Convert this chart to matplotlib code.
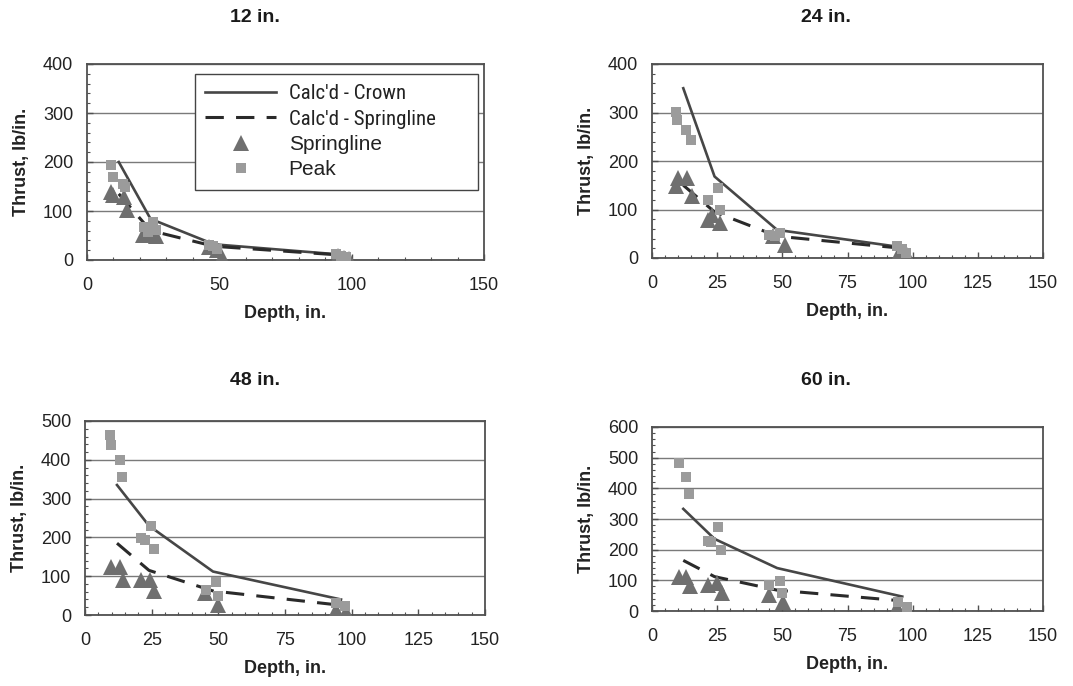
import matplotlib
matplotlib.use('Agg')
import matplotlib.pyplot as plt
from matplotlib.ticker import MultipleLocator
from matplotlib.lines import Line2D
from matplotlib import font_manager

plt.rcParams['font.family'] = ['Liberation Sans', 'DejaVu Sans']

# ---------------- data ----------------
titles = ['12 in.', '24 in.', '48 in.', '60 in.']
calc_depth = [12, 24, 48, 96]

crown_12 = [200, 84, 32, 11]
crown_24 = [350, 168, 58, 22]
crown_48 = [335, 230, 112, 40]
crown_60 = [333, 235, 140, 47]

calc_spring_12 = [135, 60, 28, 10]
calc_spring_24 = [150, 95, 45, 20]
calc_spring_48 = [185, 115, 62, 25]
calc_spring_60 = [165, 112, 68, 33]

peak_depth_12 = [9, 10, 13.5, 14.5, 21.5, 23, 25, 26, 46, 47.5, 49, 94, 96, 98]
peak_12 = [194, 170, 156, 150, 68, 58, 78, 62, 30, 28, 22, 12, 9, 7]
spring_depth_12 = [9, 10, 14, 15, 21, 23, 26, 46, 49, 51, 95, 97, 99]
spring_12 = [139, 133, 129, 102, 51, 55, 48, 27, 20, 7, 8, 5, 3]

peak_depth_24 = [9.2, 9.5, 13, 14.8, 21.6, 25.4, 26, 45, 47, 49, 94, 96, 97.6]
peak_24 = [302, 285, 264, 244, 120, 144, 100, 48, 45, 51, 24, 18, 10]
spring_depth_24 = [9.2, 10, 13.3, 15.2, 21.6, 22.9, 26, 46.5, 51, 95, 98]
spring_24 = [148, 165, 165, 127, 79, 89, 72, 45, 27, 14, 7]

peak_depth_48 = [9.3, 9.9, 13.3, 14, 21, 22.4, 24.9, 25.8, 45.5, 49.3, 50, 94, 97.5]
peak_48 = [463, 437, 399, 356, 198, 193, 230, 170, 65, 86, 48, 31, 22]
spring_depth_48 = [9.9, 13.3, 14.3, 21, 24.3, 26, 45, 50, 94, 98]
spring_48 = [125, 125, 91, 91, 91, 61, 57, 27, 14, 9]

peak_depth_60 = [10.5, 13, 14.3, 21.6, 22.5, 25.4, 26.3, 45, 49, 49.7, 94.4, 98]
peak_60 = [483, 437, 383, 228, 225, 274, 199, 85, 99, 58, 30, 14]
spring_depth_60 = [10.5, 13, 14.6, 21.6, 24.8, 26.7, 45, 50.3, 94, 97.6]
spring_60 = [112, 112, 81, 85, 90, 58, 52, 30, 14, 3]

y_max = [400, 400, 500, 600]
x_minor = [10, 5, 5, 5]
x_major = [50, 25, 25, 25]

crowns = [crown_12, crown_24, crown_48, crown_60]
calc_springs = [calc_spring_12, calc_spring_24, calc_spring_48, calc_spring_60]
peak_depths = [peak_depth_12, peak_depth_24, peak_depth_48, peak_depth_60]
peaks = [peak_12, peak_24, peak_48, peak_60]
spring_depths = [spring_depth_12, spring_depth_24, spring_depth_48, spring_depth_60]
springs = [spring_12, spring_24, spring_48, spring_60]

# ---------------- layout ----------------
W, H = 1073, 686
fig = plt.figure(figsize=(W / 100, H / 100), dpi=100)

installed = {f.name for f in font_manager.fontManager.ttflist}
narrow_family = None
for cand in ['Liberation Sans Narrow', 'Arial Narrow', 'Roboto Condensed',
             'Open Sans Condensed', 'DejaVu Sans Condensed']:
    if cand in installed:
        narrow_family = cand
        break


def px_axes(l, t, r, b):
    return [l / W, 1 - b / H, (r - l) / W, (b - t) / H]


rects = [px_axes(87, 64, 484, 260), px_axes(652, 64, 1043, 258),
         px_axes(85, 421, 485, 615), px_axes(652, 427, 1043, 611)]
title_pos = [(255, 18), (826, 18), (255, 380), (826, 380)]

line_col = '#464646'
tri_col = '#6f6f6f'
sq_col = '#9b9b9b'
spine_col = '#505050'
txt_col = '#222222'

for i in range(4):
    ax = fig.add_axes(rects[i])
    ax.plot(calc_depth, crowns[i], '-', color=line_col, lw=1.9, zorder=3)
    ax.plot(calc_depth, calc_springs[i], color='#2a2a2a', lw=2.2,
            linestyle=(0, (6, 4)), zorder=3)
    ax.plot(spring_depths[i], springs[i], '^', color=tri_col, ms=11,
            mew=0, zorder=4)
    ax.plot(peak_depths[i], peaks[i], 's', color=sq_col, ms=7.5,
            mew=0, zorder=5)

    ax.set_xlim(0, 150)
    ax.set_ylim(0, y_max[i])
    ax.xaxis.set_major_locator(MultipleLocator(x_major[i]))
    ax.xaxis.set_minor_locator(MultipleLocator(x_minor[i]))
    ax.yaxis.set_major_locator(MultipleLocator(100))
    ax.yaxis.set_minor_locator(MultipleLocator(20))
    ax.grid(axis='y', which='major', color='#7a7a7a', lw=1.0, zorder=1)
    ax.set_axisbelow(True)
    for s in ax.spines.values():
        s.set_color(spine_col)
        s.set_linewidth(1.3)
    ax.tick_params(axis='both', which='major', direction='in', length=4,
                   width=1, color=spine_col, labelsize=13,
                   labelcolor=txt_col)
    ax.tick_params(axis='both', which='minor', direction='in', length=2.5,
                   width=0.8, color=spine_col)
    ax.tick_params(axis='x', which='major', pad=12)
    ax.tick_params(axis='y', which='major', pad=10)
    ax.tick_params(right=False, top=False, which='both')

    ax.set_xlabel('Depth, in.', fontsize=13, fontweight='bold',
                  color=txt_col, labelpad=8)
    ax.set_ylabel('Thrust, lb/in.', fontsize=13, fontweight='bold',
                  color=txt_col, labelpad=9)
    tx, ty = title_pos[i]
    fig.text(tx / W, 1 - ty / H, titles[i], ha='center', va='center',
             fontsize=14, fontweight='bold', color='#1a1a1a')

    if i == 0:
        handles = [
            Line2D([], [], color=line_col, lw=1.9),
            Line2D([], [], color='#2a2a2a', lw=2.2, linestyle=(0, (6, 4))),
            Line2D([], [], color=tri_col, marker='^', ls='none', ms=11, mew=0),
            Line2D([], [], color=sq_col, marker='s', ls='none', ms=7.5, mew=0),
        ]
        labels = ["Calc'd - Crown", "Calc'd - Springline", 'Springline', 'Peak']
        leg = ax.legend(handles, labels, loc='upper left',
                        bbox_to_anchor=(0.272, 0.949, 0.713, 0.0),
                        mode='expand', borderaxespad=0, fontsize=15,
                        handlelength=3.4, handletextpad=0.6,
                        labelspacing=0.3, borderpad=0.5, numpoints=1,
                        fancybox=False, framealpha=1, edgecolor='#444444')
        leg.get_frame().set_linewidth(1.0)
        for t in leg.get_texts():
            t.set_color(txt_col)
        if narrow_family:
            for t in leg.get_texts()[:2]:
                t.set_fontfamily([narrow_family, 'Liberation Sans'])
        else:
            for t in leg.get_texts()[:2]:
                t.set_fontsize(13)

fig.savefig('out.png', dpi=100, facecolor='white')
